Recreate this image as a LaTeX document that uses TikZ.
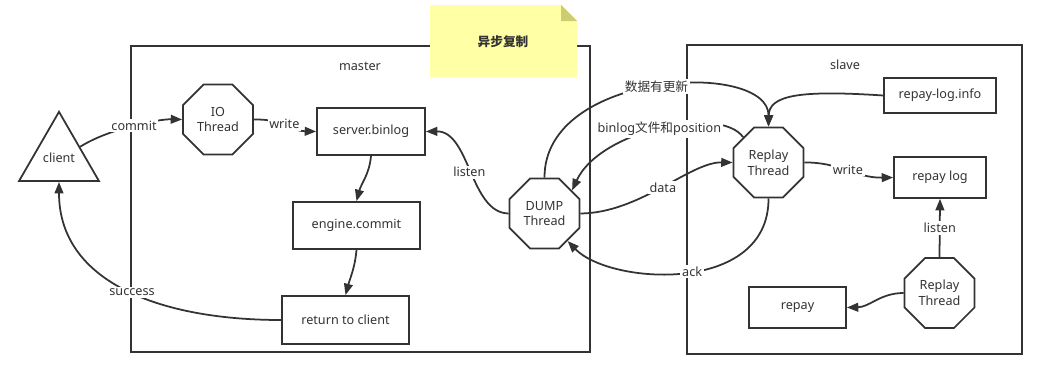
\documentclass[tikz,border=0pt]{standalone}
\usepackage{fontspec}
\setmainfont{Noto Sans}
\newfontfamily\cjk{Noto Sans CJK SC}
\usepackage{tikz}
\usetikzlibrary{shapes.geometric, arrows.meta, positioning}
\definecolor{mydark}{RGB}{51,51,51}
\definecolor{notefill}{RGB}{255,255,166}
\definecolor{notefold}{RGB}{204,204,112}
\tikzset{
  box/.style={rectangle, draw=mydark, line width=1pt, align=center, inner sep=0pt},
  thread/.style={regular polygon, regular polygon sides=8, draw=mydark,
    line width=1pt, minimum size=1.515cm, inner sep=0pt, align=center},
  container/.style={rectangle, draw=mydark, line width=1pt, inner sep=0pt},
  arrow/.style={-{Triangle[length=6.5pt,width=5pt]}, line width=1pt, color=mydark},
  lbl/.style={fill=white, inner sep=1pt, text=mydark}
}

\begin{document}
\begin{tikzpicture}[x=0.02cm, y=-0.02cm, font=\fontsize{7.2}{9}\selectfont, text=mydark]
  \useasboundingbox (0,0) rectangle (1047,372);

  % Containers
  \node[container, minimum width=9.18cm, minimum height=6.12cm] (master) at (360.5,199) {};
  \node[container, minimum width=6.7cm, minimum height=6.18cm] (slave) at (854.5,199.5) {};
  \node (mastertxt) at (360,66) {master};
  \node (slavetxt) at (845,65) {slave};

  % Note
  \fill[notefill] (430,5) -- (561,5) -- (577,21) -- (577,77) -- (430,77) -- cycle;
  \fill[notefold] (561,5) -- (561,21) -- (577,21) -- cycle;
  \node[font=\fontsize{7.2}{9}\selectfont\cjk\bfseries] (note) at (503,42) {异步复制};

  % Client
  \node[regular polygon, regular polygon sides=3, draw=mydark, line width=1pt,
    minimum size=1.848cm, inner sep=0pt] (client) at (59,158) {client};

  % Master side
  \node[thread] (io) at (218,119.5) {IO\\Thread};
  \node[box, minimum width=2.16cm, minimum height=0.94cm] (binlog) at (371,131.5) {server.binlog};
  \node[box, minimum width=2.54cm, minimum height=0.94cm] (commit) at (356.5,225.5) {engine.commit};
  \node[box, minimum width=2.54cm, minimum height=0.96cm] (ret) at (345.5,320) {return to client};
  \node[thread] (dump) at (544.5,213.5) {DUMP\\Thread};

  % Slave side
  \node[thread] (rep1) at (768.5,162.5) {Replay\\Thread};
  \node[thread] (rep2) at (939.5,293) {Replay\\Thread};
  \node[box, minimum width=2.24cm, minimum height=0.70cm] (info) at (940,95.5) {repay-log.info};
  \node[box, minimum width=1.84cm, minimum height=0.82cm] (rlog) at (940,177.5) {repay log};
  \node[box, minimum width=1.94cm, minimum height=0.82cm] (repay) at (797.5,307.5) {repay};

  % Connectors
  \draw[arrow] (client.28) .. controls (110,128) and (160,119) .. (io.west) node[lbl, pos=0.5] {commit};
  \draw[arrow] (io.east) .. controls (285,119) and (290,131) .. (binlog.west) node[lbl, pos=0.45] {write};
  \draw[arrow] (binlog.south) to[out=-95, in=75] (commit.north);
  \draw[arrow] (commit.south) to[out=-95, in=75] (ret.north);
  \draw[arrow] (ret.west) .. controls (160,320) and (59,282) .. (client.south) node[lbl, pos=0.47] {success};
  \draw[arrow] (dump.west) .. controls (470,213) and (470,131) .. (binlog.east) node[lbl, pos=0.5] {listen};
  \draw[arrow] (dump.north) .. controls (544,70) and (769,60) .. (rep1.north) node[lbl, pos=0.5] {\cjk 数据有更新};
  \draw[arrow] (rep1.135) .. controls (720,105) and (600,130) .. (dump.40) node[lbl, pos=0.5] {binlog{\cjk 文件和}position};
  \draw[arrow] (dump.east) .. controls (640,213) and (690,162) .. (rep1.west) node[lbl, pos=0.5] {data};
  \draw[arrow] (rep1.south) .. controls (769,295) and (610,285) .. (dump.-50) node[lbl, pos=0.47] {ack};
  \draw[arrow] (info.west) .. controls (800,90) and (769,95) .. (rep1.north);
  \draw[arrow] (rep1.east) .. controls (840,162) and (855,178) .. (rlog.west) node[lbl, pos=0.5] {write};
  \draw[arrow] (rep2.north) -- (rlog.south) node[lbl, midway] {listen};
  \draw[arrow] (rep2.west) .. controls (880,293) and (870,307) .. (repay.east);
\end{tikzpicture}
\end{document}
